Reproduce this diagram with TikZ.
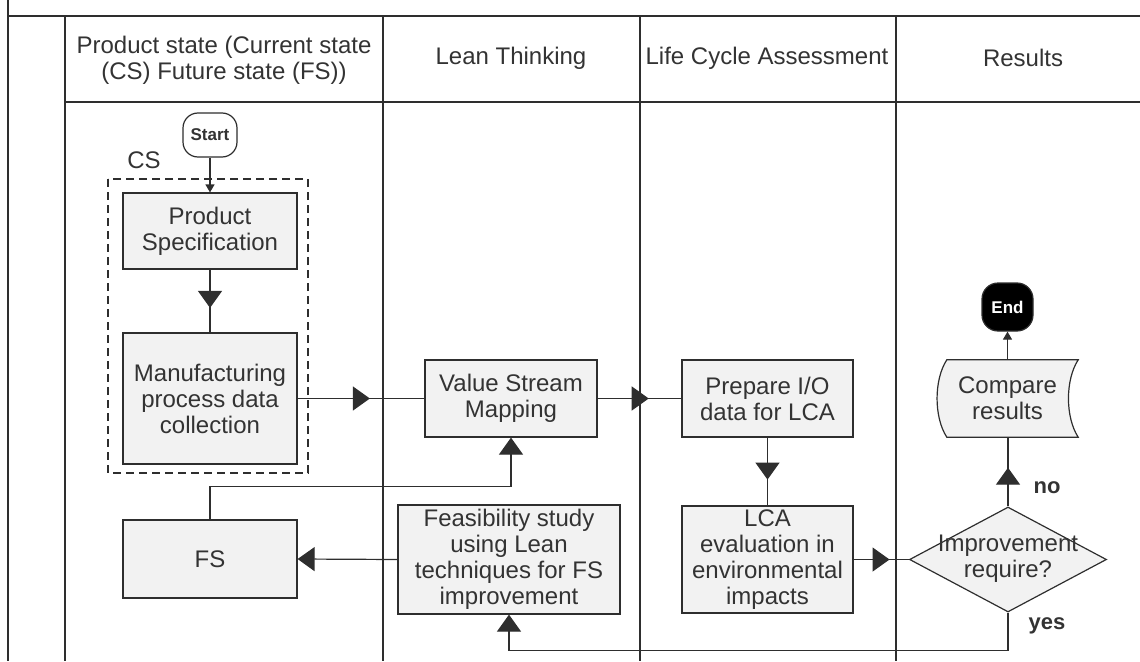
\documentclass[tikz,border=0pt]{standalone}
\usepackage{fontspec}
\setmainfont{Liberation Sans}
\usetikzlibrary{arrows.meta,shapes.geometric,decorations.markings,backgrounds}
\definecolor{lncol}{HTML}{2E2E2E}
\definecolor{boxfill}{HTML}{F2F2F2}
\definecolor{txtcol}{HTML}{333333}
\begin{document}
\begin{tikzpicture}[x=1pt,y=-1pt,
  every node/.style={font=\fontsize{24}{26}\selectfont, text=txtcol},
  grid/.style={draw=lncol, line width=1.3pt},
  box/.style={draw=lncol, fill=boxfill, line width=1.2pt, align=center, inner sep=0pt},
  conn/.style={draw=lncol, line width=1.2pt},
  bigtip/.style={-{Triangle[length=17pt,width=24pt]}},
  smalltip/.style={-{Triangle[length=8pt,width=9pt]}},
  midarrow/.style={postaction={decorate}, decoration={markings,
      mark=at position #1 with {\arrow{Triangle[length=17pt,width=24pt]}}}},
  term/.style={draw=lncol, line width=1.2pt, rounded corners=15pt, inner sep=0pt,
      font=\bfseries\fontsize{17}{19}\selectfont},
  lab/.style={font=\bfseries\fontsize{22}{24}\selectfont, text=txtcol}
]
\useasboundingbox (0,0) rectangle (1140,661);
% swimlane grid
\draw[grid] (8,0) -- (8,661);
\draw[grid] (8,16) -- (1140,16);
\draw[grid] (65,16) -- (65,661);
\draw[grid] (65,102) -- (1140,102);
\draw[grid] (383,16) -- (383,661);
\draw[grid] (640,16) -- (640,661);
\draw[grid] (896,16) -- (896,661);
% headers
\node[align=center] (h1) at (224,60) {Product state (Current state\\(CS) Future state (FS))};
\node (h2) at (511,58) {Lean Thinking};
\node (h3) at (767,58) {Life Cycle Assessment};
\node (h4) at (1023,58) {Results};
% CS group
\draw[draw=lncol, line width=1.2pt, dash pattern=on 8pt off 5pt] (108,179) rectangle (308,473);
\node (cs) at (144,160) {CS};
% nodes
\node[term, fill=white, minimum width=54pt, minimum height=44pt] (start) at (210,135) {Start};
\node[box, minimum width=174pt, minimum height=76pt] (ps) at (210,231) {Product\\Specification};
\node[box, minimum width=174pt, minimum height=131pt] (mf) at (210,398.5) {Manufacturing\\process data\\collection};
\node[box, minimum width=174pt, minimum height=78pt] (fs) at (210,559) {FS};
\node[box, minimum width=172pt, minimum height=77pt] (vsm) at (511,398.5) {Value Stream\\Mapping};
\node[box, minimum width=222pt, minimum height=109pt] (feas) at (509,559.5) {Feasibility study\\using Lean\\techniques for FS\\improvement};
\node[box, minimum width=171pt, minimum height=77pt] (prep) at (767.5,398.5) {Prepare I/O\\data for LCA};
\node[box, minimum width=171pt, minimum height=107pt] (lca) at (767.5,559.5) {LCA\\evaluation in\\environmental\\impacts};
\node[diamond, draw=lncol, fill=boxfill, line width=1.2pt, minimum width=197pt, minimum height=105pt, inner sep=0pt] (dia) at (1008,559.5) {};
\node[align=center] (diat) at (1008,559) {Improvement\\require?};
\node[align=center, minimum width=131pt, minimum height=77pt, inner sep=0pt] (cmp) at (1007.5,398.5) {Compare\\results};
\begin{scope}[on background layer]
\draw[draw=lncol, fill=boxfill, line width=1.2pt]
  ([xshift=5pt]cmp.north west) -- ([xshift=5pt]cmp.north east)
  .. controls +(-13,20) and +(-13,-20) .. ([xshift=5pt]cmp.south east)
  -- ([xshift=5pt]cmp.south west)
  .. controls +(-13,-20) and +(-13,20) .. ([xshift=5pt]cmp.north west) -- cycle;
\end{scope}
\node[term, fill=black, text=white, minimum width=51pt, minimum height=48pt, rounded corners=16pt] (end) at (1007.5,307) {End};
% labels
\node[lab] (no) at (1047,488) {no};
\node[lab] (yes) at (1047,626) {yes};
% connectors
\draw[conn, smalltip] (start) -- (ps);
\draw[conn, midarrow=0.61] (ps) -- (mf);
\draw[conn, midarrow=0.57] (mf) -- (vsm);
\draw[conn, midarrow=0.61] (vsm) -- (prep);
\draw[conn, midarrow=0.62] (prep) -- (lca);
\draw[conn, midarrow=0.65] (lca.east) -- (dia.west);
\draw[conn, midarrow=0.56] (dia.north) -- (dia.north |- cmp.south);
\draw[conn, smalltip] (cmp.north) -- (end.south);
\draw[conn, bigtip] (dia.south) -- ++(0,38) -| (feas.south);
\draw[conn, bigtip] (feas.west) -- (fs.east);
\draw[conn, bigtip] (fs.north) -- ++(0,-33) -| (vsm.south);
\end{tikzpicture}
\end{document}
